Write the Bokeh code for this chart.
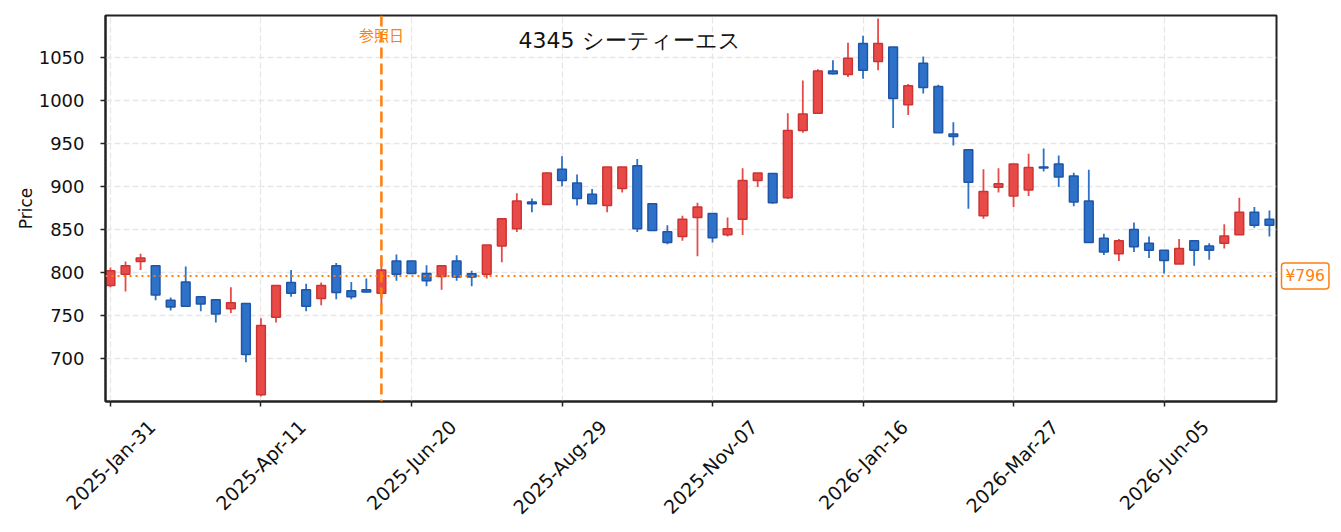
import math
import pandas as pd
from bokeh.plotting import figure
from bokeh.layouts import row
from bokeh.models import (Range1d, FixedTicker, SingleIntervalTicker, Span, Label,
                          ColumnDataSource, LinearAxis)
from bokeh.embed import file_html
from bokeh.resources import INLINE

# ---- data (weekly candles) ----
start_date = "2025-01-31"
opens = [785, 798, 813, 808, 768, 789, 772, 768.5, 758, 764,
         658, 748, 788.5, 780, 770, 808, 779, 780, 776, 813.5,
         813.5, 799, 795.5, 813.5, 798.5, 798, 831, 851, 882, 879,
         920, 904, 891, 878, 897.5, 924, 880, 847.5, 842, 864,
         868.5, 844, 862, 907, 915, 887, 965, 985, 1034, 1030,
         1066, 1045, 1062, 995, 1043, 1016, 961, 942.5, 866, 899,
         889, 896, 922.5, 926, 912, 883, 840, 822, 850, 834,
         826, 810, 837, 831, 834, 844, 870, 862]
highs = [806, 813, 822, 808, 771, 807, 772, 769, 783, 764,
         747, 785, 803, 787, 788.5, 811, 789, 793, 820, 821,
         814, 808.5, 808, 820, 802, 832, 862.5, 892, 886, 916.5,
         935, 914, 897, 922.5, 922.5, 932, 880, 855, 866, 881,
         869, 864, 921, 915.5, 915, 985, 1023, 1036, 1046.5, 1067,
         1075, 1095, 1062, 1019, 1051, 1018, 974.5, 942.5, 920, 921,
         926, 938, 944, 936, 916, 919.5, 845, 839, 858, 842,
         826, 839, 837, 834, 856, 887, 876, 872]
lows = [783, 778, 803, 768, 756, 760, 755, 742, 753, 696,
        656, 742, 772, 755, 762, 769, 769, 777, 762, 790.5,
        799, 784, 780, 790.5, 784, 793, 812, 847, 870, 879,
        900, 878, 880, 870, 893, 847, 849, 833, 837, 819,
        835, 842, 843.5, 899.5, 880, 885.5, 962.5, 985, 1030, 1027,
        1025, 1035, 968, 983, 1008, 962.5, 947.5, 874, 862.5, 893,
        876, 889, 917.5, 899.5, 877, 835, 820.5, 813.5, 824, 817,
        799, 810, 808, 815, 828, 844, 852, 842]
closes = [802, 808, 817, 774, 760, 761, 763.5, 752, 765, 705,
          738.5, 785, 776, 761, 785, 777, 772, 777.5, 803, 798,
          799, 790.5, 808, 795, 795, 832, 862.5, 883, 880, 915.5,
          907, 886, 880, 922.5, 922.5, 851, 849, 835, 862, 876,
          840.5, 851, 907, 915.5, 881, 965, 984, 1034, 1031, 1049,
          1035, 1066, 1002, 1017, 1015, 962.5, 958, 905, 894, 903,
          926, 922, 921.5, 911, 882, 835, 824, 837, 830, 826,
          814, 828, 826, 826, 842.5, 870, 855, 855]
ref_index = 18          # 参照日 week
ref_price = 796
title_text = "4345  シーティーエス"
ref_label = "参照日"
price_label = "¥796"

n = len(opens)
dates = pd.date_range(start_date, periods=n, freq="W-FRI")
tick_idx = list(range(0, n, 10))
tick_labels = [dates[i].strftime("%Y-%b-%d") for i in tick_idx]

UP_FILL, UP_LINE = "#e84a48", "#cc3434"
DN_FILL, DN_LINE = "#2d72c8", "#1f55a6"
ORANGE = "#ff7f0e"
INK = "#111111"

idx = list(range(n))
up = [c >= o for o, c in zip(opens, closes)]
src = ColumnDataSource(dict(
    x=idx, high=highs, low=lows,
    top=[max(o, c) for o, c in zip(opens, closes)],
    bottom=[min(o, c) for o, c in zip(opens, closes)],
    fill=[UP_FILL if u else DN_FILL for u in up],
    edge=[UP_LINE if u else DN_LINE for u in up],
))

H = 528
p = figure(width=1278, height=H, title=None,
           x_range=Range1d(-0.33, 77.47), y_range=Range1d(650.3, 1098.5),
           output_backend="svg", toolbar_location=None,
           min_border_left=105, min_border_right=2, min_border_top=15,
           min_border_bottom=125)
p.background_fill_color = "white"
p.border_fill_color = "white"
p.outline_line_color = "#222222"
p.outline_line_width = 2

p.segment(x0="x", y0="low", x1="x", y1="high", source=src,
          line_color="fill", line_width=1.8)
p.vbar(x="x", width=0.58, top="top", bottom="bottom", source=src,
       fill_color="fill", line_color="edge", line_width=1.5)

p.add_layout(Span(location=ref_price, dimension="width", line_color=ORANGE,
                  line_dash="2 4", line_width=2))
p.add_layout(Span(location=ref_index, dimension="height", line_color=ORANGE,
                  line_dash="11 5", line_width=2.5))

p.add_layout(Label(x=34.72, y=1069.6, text=title_text, text_align="center",
                   text_baseline="middle", text_font="DejaVu Sans",
                   text_font_size="22px", text_color=INK))
p.add_layout(Label(x=ref_index, y=1076.6, text=ref_label, text_align="center",
                   text_baseline="middle", text_font="Noto Sans CJK JP",
                   text_font_size="15px", text_color=ORANGE))

# axes
xa = p.xaxis[0]
ya = p.yaxis[0]
for ax in (xa, ya):
    ax.axis_line_color = "#222222"
    ax.axis_line_width = 2
    ax.major_tick_line_color = "#222222"
    ax.major_tick_line_width = 1.5
    ax.major_tick_out = 5
    ax.major_tick_in = 0
    ax.minor_tick_line_color = None
    ax.major_label_text_font = "DejaVu Sans"
    ax.major_label_text_font_size = "18px"
    ax.major_label_text_color = INK

# tick marks at the weeks; labels on a second axis, centred under each tick
xa.ticker = FixedTicker(ticks=tick_idx)
xa.major_label_overrides = {i: "" for i in tick_idx}
xa.major_label_text_font_size = "1px"
xa.major_label_standoff = 0

label_shift = 2.75
xb = LinearAxis(ticker=FixedTicker(ticks=[i + label_shift for i in tick_idx]),
                major_label_overrides={i + label_shift: t for i, t in zip(tick_idx, tick_labels)},
                axis_line_color=None, major_tick_out=0, major_tick_in=0,
                minor_tick_line_color=None,
                major_label_orientation=math.pi / 4, major_label_standoff=17,
                major_label_text_font="DejaVu Sans", major_label_text_font_size="19px",
                major_label_text_color=INK)
p.add_layout(xb, "below")

ya.ticker = SingleIntervalTicker(interval=50)
ya.major_label_standoff = 16
ya.axis_label = "Price"
ya.axis_label_text_font = "DejaVu Sans"
ya.axis_label_text_font_size = "17px"
ya.axis_label_text_font_style = "normal"
ya.axis_label_text_color = INK
ya.axis_label_standoff = 0

p.xgrid[0].ticker = FixedTicker(ticks=tick_idx)
for g in (p.xgrid[0], p.ygrid[0]):
    g.grid_line_color = "#e6e6e6"
    g.grid_line_dash = "6 3"
    g.grid_line_width = 1.3

# right-hand strip carrying the price tag next to the frame
q = figure(width=58, height=H, title=None, x_range=Range1d(0, 58),
           y_range=p.y_range, output_backend="svg", toolbar_location=None,
           x_axis_type=None, y_axis_type=None,
           min_border_left=0, min_border_right=0, min_border_top=15,
           min_border_bottom=125)
q.outline_line_color = None
q.grid.visible = False
q.background_fill_color = "white"
q.border_fill_color = "white"
q.add_layout(Label(x=3, y=ref_price, text=price_label,
                   text_align="left", text_baseline="middle",
                   text_font="DejaVu Sans", text_font_size="15.5px",
                   text_color=ORANGE, border_line_color=ORANGE,
                   border_line_width=1.5, background_fill_color="white",
                   padding=4, border_radius=3))

layout = row(p, q, spacing=0)
open("out.html", "w").write(file_html(layout, INLINE))
